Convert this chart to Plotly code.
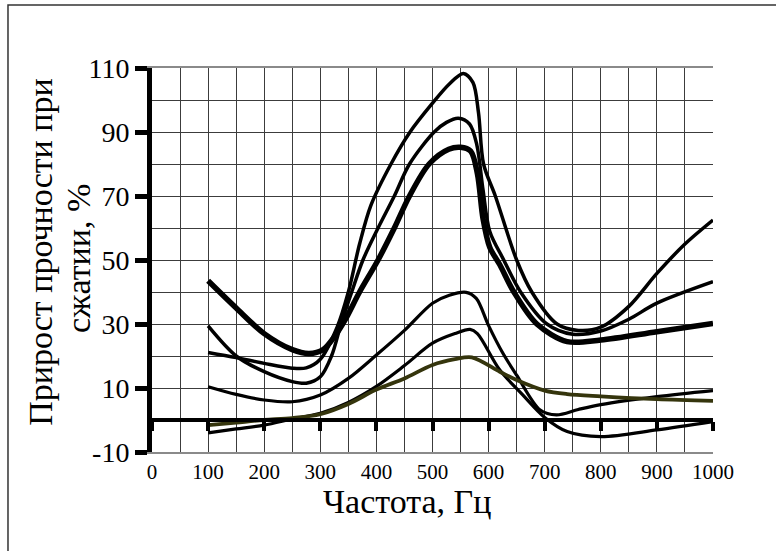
import plotly.graph_objects as go

# ---- data ----
xA = [100, 150, 200, 250, 280, 305, 325, 345, 370, 403, 432, 459, 494, 529, 550, 568, 580, 590, 602, 620, 645, 686, 740, 800, 900, 1000]
yA = [43.5, 35, 27, 22, 20.8, 22, 26, 31.5, 40, 50, 60, 70, 80, 84.6, 85.2, 84, 77, 63, 54, 48.5, 40, 30, 24.5, 25, 27.6, 30.2]

xB = [100, 150, 200, 250, 275, 300, 320, 337, 356, 376, 403, 432, 459, 503, 525, 546, 566, 579, 590, 602, 627, 657, 704, 750, 800, 850, 900, 1000]
yB = [29.4, 20, 15.1, 12, 11.5, 13.5, 20, 30, 40, 50, 60, 70, 80, 90, 93, 94.3, 92.5, 86, 72, 59, 50, 40, 30, 26.8, 27.8, 31.5, 36.5, 43.2]

xC = [100, 150, 200, 250, 275, 300, 330, 350, 370, 390, 426, 460, 500, 530, 555, 572, 582, 591, 612, 650, 677, 722, 760, 800, 850, 900, 950, 1000]
yC = [21.1, 19.5, 17.7, 16.2, 16.3, 19, 29, 40, 55, 67, 80, 90, 99, 105, 108.3, 105.5, 96, 80, 70, 50, 40, 30, 28, 29, 35.5, 45.8, 55, 62.5]

xD = [100, 150, 200, 250, 300, 350, 400, 450, 500, 530, 560, 578, 600, 625, 650, 692, 721, 760, 800, 900, 1000]
yD = [10.4, 8, 6.25, 5.7, 7.8, 13, 20.3, 28, 36.5, 39, 39.9, 38, 29.5, 21, 14, 3.1, 1.6, 3.3, 4.8, 7.3, 9.2]

xE = [100, 150, 200, 250, 300, 350, 400, 450, 500, 540, 567, 580, 620, 660, 700, 740, 800, 900, 1000]
yE = [-4, -2.8, -1.6, 0.3, 2.1, 5.5, 10.5, 17, 24, 27, 28.3, 27, 15.6, 8, 0.8, -3.6, -5.2, -3.1, -0.5]

xF = [100, 150, 200, 250, 300, 350, 400, 450, 500, 540, 570, 620, 650, 700, 740, 800, 900, 1000]
yF = [-1.6, -0.8, 0, 0.6, 1.8, 5, 9.5, 13, 17.2, 19, 19.6, 15.1, 12.5, 9.2, 8.1, 7.4, 6.5, 6.0]

x_ticks = list(range(0, 1001, 100))
y_ticks = [-10, 10, 30, 50, 70, 90, 110]

x_title = "Частота, Гц"
y_title_1 = "Прирост прочности при"
y_title_2 = "сжатии, %"

FONT = "Liberation Serif, Times New Roman, serif"
GRID = "#3c3c3c"
FRAME = "#8a8a8a"

series = [
    (xC, yC, "#000000", 3.5, "x"),
    (xB, yB, "#000000", 3.5, "x"),
    (xA, yA, "#000000", 5.5, "x"),
    (xD, yD, "#000000", 3.2, "x"),
    (xE, yE, "#000000", 3.2, "x"),
    (xF, yF, "#35350d", 3.8, "x2"),
]

fig = go.Figure()
for xs, ys, col, w, xa in series:
    fig.add_trace(go.Scatter(x=xs, y=ys, mode="lines", xaxis=xa, yaxis="y",
                             line=dict(color=col, width=w, shape="spline", smoothing=0.9),
                             showlegend=False, hoverinfo="skip"))

fig.update_layout(
    width=776, height=551,
    margin=dict(l=152, r=63, t=68, b=99),
    paper_bgcolor="white", plot_bgcolor="white",
    font=dict(family=FONT, color="black"),
    showlegend=False,
    xaxis=dict(
        range=[0, 1000], tickvals=x_ticks, ticktext=[str(v) for v in x_ticks],
        showgrid=True, gridcolor=GRID, gridwidth=1,
        minor=dict(tick0=0, dtick=50, showgrid=True, gridcolor=GRID, gridwidth=1),
        showline=True, linecolor=FRAME, linewidth=2, mirror=True,
        ticks="", zeroline=False,
        tickfont=dict(family=FONT, size=21, color="black"),
    ),
    xaxis2=dict(
        overlaying="x", anchor="free", position=10 / 120, side="bottom",
        range=[0, 1000], tickmode="linear", tick0=0, dtick=100,
        showline=True, linecolor="black", linewidth=4,
        ticks="outside", ticklen=9, tickwidth=4, tickcolor="black",
        showticklabels=False, showgrid=False, zeroline=False,
    ),
    yaxis=dict(
        range=[-10, 110], tickvals=y_ticks, ticktext=[str(v) for v in y_ticks],
        showgrid=True, gridcolor=GRID, gridwidth=1,
        minor=dict(tick0=0, dtick=10, showgrid=True, gridcolor=GRID, gridwidth=1),
        showline=True, linecolor="black", linewidth=5,
        ticks="outside", ticklen=12, tickwidth=5, tickcolor="black",
        zeroline=False,
        tickfont=dict(family=FONT, size=28, color="black"),
    ),
    yaxis2=dict(
        overlaying="y", side="right", range=[-10, 110],
        showline=True, linecolor=FRAME, linewidth=2,
        showticklabels=False, ticks="", showgrid=False, zeroline=False,
    ),
    annotations=[
        dict(text=x_title, xref="paper", yref="paper", x=0.4545, y=-0.13,
             xanchor="center", yanchor="middle", showarrow=False,
             font=dict(family=FONT, size=34, color="black")),
        dict(text=y_title_1, xref="paper", yref="paper", x=-0.198, y=0.521,
             xanchor="center", yanchor="middle", showarrow=False, textangle=-90,
             font=dict(family=FONT, size=34, color="black")),
        dict(text=y_title_2, xref="paper", yref="paper", x=-0.132, y=0.505,
             xanchor="center", yanchor="middle", showarrow=False, textangle=-90,
             font=dict(family=FONT, size=34, color="black")),
    ],
    shapes=[
        dict(type="rect", xref="paper", yref="paper", x0=-0.2567, y0=-1.5, x1=2.0, y1=1.164,
             line=dict(color="#333333", width=1.5), fillcolor="rgba(0,0,0,0)", layer="below"),
    ],
)

fig.write_html("out.html")
